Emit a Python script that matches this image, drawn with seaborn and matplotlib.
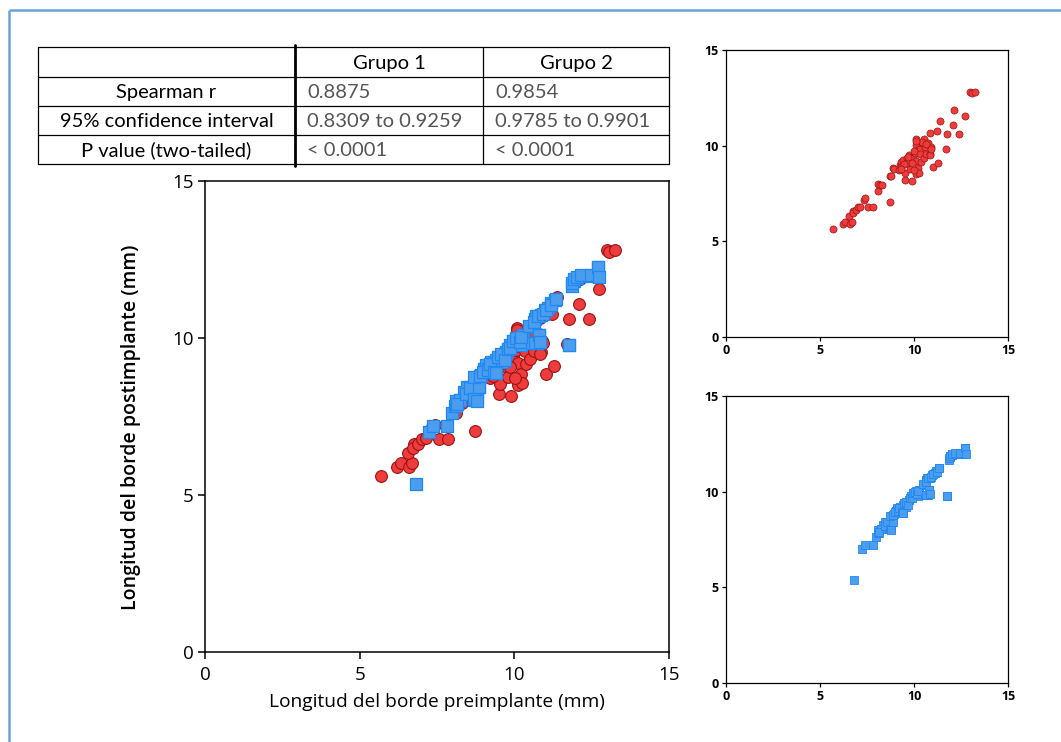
import matplotlib
matplotlib.use("Agg")
import matplotlib.pyplot as plt
import numpy as np
import pandas as pd
import seaborn as sns

# Grupo 1: preimplant vs postimplant edge length (mm)
grupo1_pre = [5.70, 6.20, 6.34, 6.59, 6.68, 6.55, 6.76, 6.73, 6.89, 7.03,
              7.15, 7.33, 7.42, 7.56, 7.84, 8.11, 8.11, 8.20, 8.32, 8.71,
              8.78, 8.73, 8.89, 8.96, 9.21, 9.25, 9.33, 9.39, 9.33, 9.51,
              9.54, 9.63, 9.74, 9.78, 9.79, 9.88, 9.95, 10.06, 10.09, 10.13,
              10.13, 10.13, 10.20, 10.22, 10.25, 10.31, 10.34, 10.39, 10.45, 10.52,
              10.54, 10.59, 10.63, 10.73, 10.84, 10.87, 10.91, 11.01, 11.21, 11.28,
              11.39, 11.71, 11.76, 12.08, 12.11, 12.40, 12.73, 13.00, 13.07, 13.26,
              10.40, 10.63, 10.84, 10.93, 10.10, 9.63, 9.87, 10.02, 9.45, 10.00,
              9.70, 9.30]
grupo1_post = [5.62, 5.88, 6.02, 5.88, 6.02, 6.35, 6.61, 6.49, 6.63, 6.77,
               6.80, 7.15, 7.24, 6.77, 6.77, 7.62, 7.99, 7.95, 7.92, 8.41,
               8.44, 7.03, 8.84, 8.77, 8.72, 8.98, 9.17, 9.24, 8.90, 8.23,
               8.55, 9.33, 9.51, 9.21, 8.77, 8.16, 9.42, 9.63, 10.33, 10.03,
               9.21, 8.51, 8.84, 9.77, 8.58, 9.80, 9.59, 9.16, 10.12, 9.33,
               10.36, 9.91, 9.59, 10.15, 10.64, 9.56, 9.91, 8.86, 10.76, 9.12,
               11.30, 9.82, 10.59, 11.09, 11.88, 10.59, 11.56, 12.80, 12.73, 12.79,
               10.20, 10.08, 9.50, 9.85, 10.26, 9.10, 9.07, 8.72, 9.05, 9.70,
               9.40, 8.80]

# Grupo 2: preimplant vs postimplant edge length (mm)
grupo2_pre = [6.82, 7.23, 7.38, 7.81, 7.97, 8.08, 8.11, 8.23, 8.36, 8.46,
              8.57, 8.61, 8.71, 8.80, 8.78, 8.85, 8.93, 9.03, 9.10, 9.16,
              9.24, 9.39, 9.42, 9.51, 9.60, 9.65, 9.74, 9.81, 9.86, 9.95,
              10.04, 10.13, 10.22, 10.27, 10.48, 10.57, 10.66, 10.70, 10.77, 10.80,
              10.87, 10.98, 11.10, 11.19, 11.33, 11.76, 11.86, 11.94, 12.04, 12.40,
              12.71, 12.71,
              8.13, 8.24, 8.15, 8.45, 8.57, 8.71, 8.80, 8.86, 8.71, 8.89,
              8.98, 9.16, 9.21, 9.34, 9.42, 9.46, 9.57, 9.69, 9.78, 9.87,
              9.95, 10.04, 10.17, 10.22, 10.49, 10.63, 10.66, 10.75, 10.80, 10.84,
              10.93, 11.02, 11.20, 11.34, 11.76, 11.87, 11.94, 12.04, 12.17, 12.47,
              12.70, 12.75]
grupo2_post = [5.36, 7.00, 7.19, 7.19, 7.62, 7.83, 8.00, 8.04, 8.27, 8.44,
               8.44, 8.27, 8.04, 8.09, 8.73, 8.44, 8.82, 9.00, 9.14, 9.00,
               9.22, 8.87, 9.31, 9.36, 9.22, 9.48, 9.54, 9.66, 9.78, 9.92,
               9.83, 10.01, 9.78, 10.09, 10.34, 9.83, 10.61, 10.70, 9.83, 10.09,
               10.74, 10.88, 10.96, 11.10, 11.22, 9.78, 11.66, 11.80, 11.92, 11.97,
               11.97, 12.27,
               7.83, 8.04, 7.91, 8.23, 8.40, 8.05, 8.00, 8.44, 8.75, 8.78,
               8.92, 8.99, 9.17, 8.92, 8.87, 9.39, 9.48, 9.31, 9.65, 9.69,
               9.91, 10.00, 9.86, 10.04, 10.39, 10.52, 9.83, 10.70, 10.09, 9.86,
               10.78, 10.90, 11.04, 11.25, 9.79, 11.74, 11.88, 11.95, 12.00, 12.00,
               12.26, 11.95]

group_names = ["Grupo 1", "Grupo 2"]
stat_rows = ["Spearman r", "95% confidence interval", "P value (two-tailed)"]
stat_grupo1 = ["0.8875", "0.8309 to 0.9259", "< 0.0001"]
stat_grupo2 = ["0.9854", "0.9785 to 0.9901", "< 0.0001"]

x_label = "Longitud del borde preimplante (mm)"
y_label = "Longitud del borde postimplante (mm)"
axis_ticks = [0, 5, 10, 15]

sns.set_theme(style="white")
plt.rcParams["font.family"] = ["Open Sans", "DejaVu Sans"]

df1 = pd.DataFrame({"pre": grupo1_pre, "post": grupo1_post, "grupo": group_names[0]})
df2 = pd.DataFrame({"pre": grupo2_pre, "post": grupo2_post, "grupo": group_names[1]})

RED, RED_EDGE = "#EE3B3B", "#9C1414"
BLUE, BLUE_EDGE = "#4C9DEE", "#1E88F5"

W, H = 1061, 742
fig = plt.figure(figsize=(W / 100, H / 100), dpi=100)


def px_axes(left, top, right, bottom):
    return fig.add_axes([left / W, 1 - bottom / H, (right - left) / W, (bottom - top) / H])


# overlay in pixel coordinates for the frame and the statistics table
ov = fig.add_axes([0, 0, 1, 1], zorder=-1)
ov.set_xlim(0, W)
ov.set_ylim(H, 0)
ov.axis("off")

# light blue frame
ov.plot([9, W], [10, 10], color="#6AA3DA", lw=1.8, solid_capstyle="butt")
ov.plot([9, 9], [10, H], color="#6AA3DA", lw=1.8, solid_capstyle="butt")

# statistics table
col_x = [38, 295, 483, 669]
row_y = [47, 77, 106, 135, 164]
for y in row_y:
    ov.plot([col_x[0], col_x[-1]], [y, y], color="black", lw=0.9)
ov.plot([col_x[0], col_x[0]], [row_y[0], row_y[-1]], color="black", lw=0.9)
ov.plot([col_x[2], col_x[2]], [row_y[0], row_y[-1]], color="black", lw=0.9)
ov.plot([col_x[3], col_x[3]], [row_y[0], row_y[-1]], color="black", lw=0.9)
ov.plot([col_x[1], col_x[1]], [row_y[0] - 2, row_y[-1] + 2], color="black", lw=2.0)

tfont = ["Lato", "DejaVu Sans"]
TSIZE = 14.5
for j, name in enumerate(group_names):
    ov.text((col_x[j + 1] + col_x[j + 2]) / 2, (row_y[0] + row_y[1]) / 2 + 1, name,
            ha="center", va="center", fontsize=TSIZE, family=tfont, color="black")
for i, label in enumerate(stat_rows):
    yc = (row_y[i + 1] + row_y[i + 2]) / 2 + 1
    ov.text((col_x[0] + col_x[1]) / 2, yc, label, ha="center", va="center",
            fontsize=TSIZE, family=tfont, color="black")
    ov.text(col_x[1] + 12, yc, stat_grupo1[i], ha="left", va="center",
            fontsize=TSIZE, family=tfont, color="#555555")
    ov.text(col_x[2] + 12, yc, stat_grupo2[i], ha="left", va="center",
            fontsize=TSIZE, family=tfont, color="#555555")


def style_axes(ax, labelsize, bold, ticklen, lw, pad):
    ax.set_xlim(0, 15)
    ax.set_ylim(0, 15)
    ax.set_xticks(axis_ticks)
    ax.set_yticks(axis_ticks)
    for sp in ax.spines.values():
        sp.set_visible(True)
        sp.set_color("black")
        sp.set_linewidth(lw)
    ax.tick_params(axis="both", which="major", bottom=True, left=True, top=False, right=False,
                   direction="out", length=ticklen, width=lw, color="black",
                   labelsize=labelsize, pad=pad)
    for t in ax.get_xticklabels() + ax.get_yticklabels():
        t.set_fontweight("bold" if bold else "normal")
        t.set_color("black")
    ax.set_facecolor("white")


# main combined scatter
ax = px_axes(205, 181, 669, 652)
sns.scatterplot(data=df1, x="pre", y="post", ax=ax, marker="o", s=72, color=RED,
                edgecolor=RED_EDGE, linewidth=0.8, legend=False, zorder=2)
sns.scatterplot(data=df2, x="pre", y="post", ax=ax, marker="s", s=80, color=BLUE,
                edgecolor=BLUE_EDGE, linewidth=0.9, legend=False, zorder=3)
style_axes(ax, 13.5, False, 5, 1.1, 3)
ax.tick_params(axis="x", pad=5)
ax.set_xlabel(x_label, fontsize=13.8, color="black")
ax.set_ylabel(y_label, fontsize=14, fontweight="semibold", color="black")
ax.xaxis.set_label_coords(0.5, -0.088)
ax.yaxis.set_label_coords(-0.138, 0.478)

# Grupo 1 alone
ax1 = px_axes(726, 50, 1008, 337)
sns.scatterplot(data=df1, x="pre", y="post", ax=ax1, marker="o", s=26, color=RED,
                edgecolor=RED_EDGE, linewidth=0.5, legend=False)
style_axes(ax1, 9, True, 3, 0.9, 2)
ax1.set_xlabel("")
ax1.set_ylabel("")

# Grupo 2 alone
ax2 = px_axes(726, 396, 1008, 683)
sns.scatterplot(data=df2, x="pre", y="post", ax=ax2, marker="s", s=28, color=BLUE,
                edgecolor=BLUE_EDGE, linewidth=0.6, legend=False)
style_axes(ax2, 9, True, 3, 0.9, 2)
ax2.set_xlabel("")
ax2.set_ylabel("")

fig.savefig("out.png", dpi=100, facecolor="white")
